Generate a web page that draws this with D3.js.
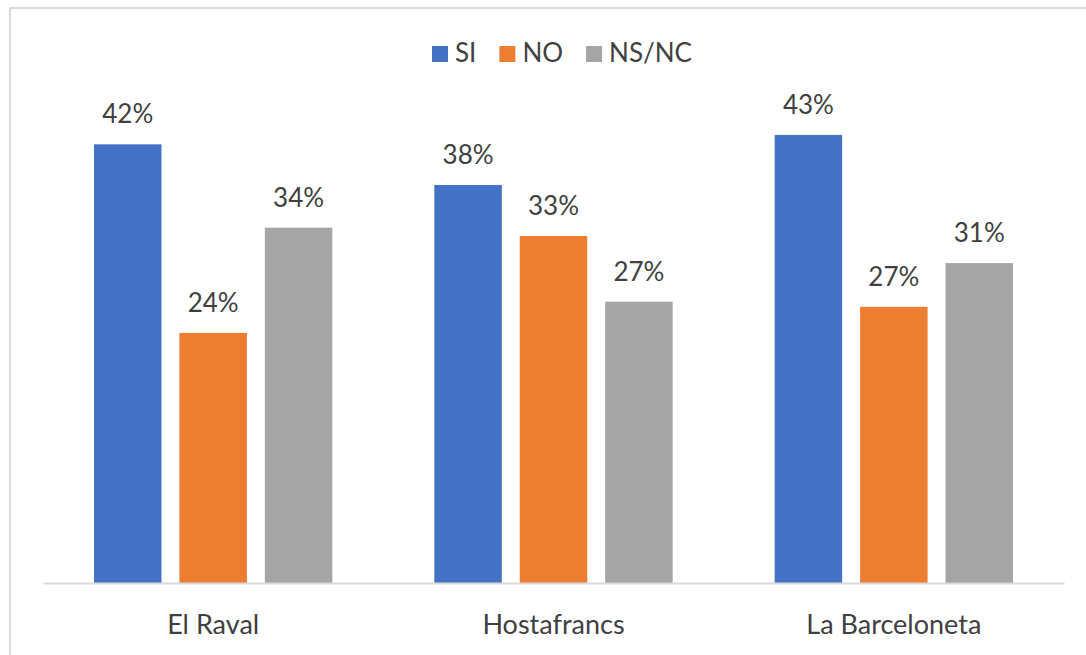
<!DOCTYPE html>
<html><head><meta charset="utf-8">
<script src="https://cdn.jsdelivr.net/npm/d3@7"></script>
<style>body{margin:0;background:#fff}</style>
</head><body>
<svg id="c" width="1086" height="655"></svg>
<script>
const categories = ["El Raval", "Hostafrancs", "La Barceloneta"];
const seriesNames = ["SI", "NO", "NS/NC"];
const siValues = [42.1, 38.2, 43.0];
const noValues = [24.0, 33.3, 26.5];
const nsncValues = [34.1, 27.0, 30.7];
const seriesColors = ["#4472C4", "#ED7D31", "#A5A5A5"];
const seriesValues = [siValues, noValues, nsncValues];

const svg = d3.select("#c");
const font = "Lato, 'Open Sans', sans-serif";
const fs = 26;

// outer border (only top and left visible)
svg.append("rect").attr("x", 10).attr("y", 8).attr("width", 1200).attr("height", 800)
  .attr("fill", "none").attr("stroke", "#d9d9d9").attr("stroke-width", 2);

const x0 = d3.scaleBand().domain(categories).range([43, 1064]).paddingInner(0).paddingOuter(0);
const inset = 51;
const x1 = d3.scaleBand().domain(seriesNames).range([inset, x0.bandwidth() - inset]).paddingInner(0.21).paddingOuter(0);
const y = d3.scaleLinear().domain([0, 50]).range([583, 62]);

const g = svg.append("g");
categories.forEach((cat, ci) => {
  seriesNames.forEach((s, si) => {
    const v = seriesValues[si][ci];
    const bx = x0(cat) + x1(s);
    g.append("rect").attr("x", bx).attr("y", y(v)).attr("width", x1.bandwidth())
      .attr("height", y(0) - y(v)).attr("fill", seriesColors[si]);
    g.append("text").attr("x", bx + x1.bandwidth() / 2).attr("y", y(v) - 21)
      .attr("text-anchor", "middle").attr("font-family", font).attr("font-size", fs)
      .attr("fill", "#404040").text(Math.round(v) + "%");
  });
});

// x axis
const xAxis = d3.axisBottom(x0).tickSize(0).tickPadding(0);
const ax = svg.append("g").attr("transform", `translate(0,${y(0)})`).call(xAxis);
ax.select(".domain").attr("stroke", "#d9d9d9").attr("stroke-width", 2);
ax.selectAll("text").attr("font-family", font).attr("font-size", 27).attr("fill", "#404040")
  .attr("dy", null).attr("y", 51);

// legend
const leg = svg.append("g");
let lx = 432;
seriesNames.forEach((s, i) => {
  leg.append("rect").attr("x", lx).attr("y", 46).attr("width", 16).attr("height", 16).attr("fill", seriesColors[i]);
  const t = leg.append("text").attr("x", lx + 23).attr("y", 62).attr("font-family", font)
    .attr("font-size", fs).attr("fill", "#404040").text(s);
  lx += 23 + t.node().getComputedTextLength() + 23;
});
</script>
</body></html>
